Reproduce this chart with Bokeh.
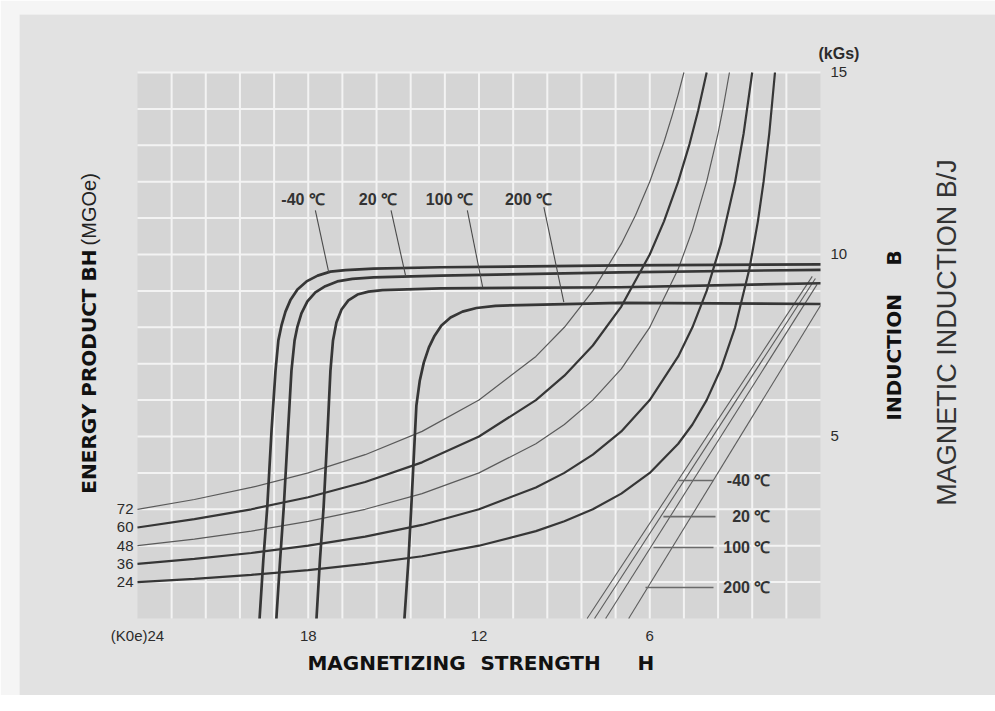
from math import pi
from bokeh.plotting import figure
from bokeh.models import Range1d, LinearAxis, FixedTicker
from bokeh.core.properties import value
from bokeh.embed import file_html
from bokeh.resources import INLINE

# ---------------- data ----------------
H_MAX, B_MAX = 24, 15
H_TICKS = [24, 18, 12, 6]
H_TICK_LABELS = ["(K0e)24", "18", "12", "6"]
B_TICKS = [5, 10, 15]
B_TICK_LABELS = ["5", "10", "15"]
BH_VALUES = [24, 36, 48, 60, 72]
TEMPS = ["-40 \u2103", "20 \u2103", "100 \u2103", "200 \u2103"]

# intrinsic demagnetization curves (H in kOe, B/J in kGs)
j_m40_h = [19.71, 19.58, 19.44, 19.29, 19.15, 19.05, 18.94, 18.80, 18.62, 18.38, 18.06, 17.67,
           17.22, 16.69, 15.71, 13.35, 7.03, 0.0]
j_m40_b = [0.00, 1.59, 3.06, 5.16, 6.81, 7.64, 8.05, 8.43, 8.76, 9.04, 9.26, 9.42,
           9.53, 9.57, 9.61, 9.65, 9.70, 9.73]
j_20_h = [19.12, 18.99, 18.86, 18.71, 18.59, 18.48, 18.38, 18.24, 18.03, 17.75, 17.40, 16.98,
          16.45, 15.71, 13.35, 7.03, 0.0]
j_20_b = [0.00, 1.59, 3.06, 5.16, 6.81, 7.64, 8.02, 8.38, 8.71, 8.96, 9.13, 9.26,
          9.33, 9.37, 9.42, 9.51, 9.58]
j_100_h = [17.71, 17.59, 17.46, 17.32, 17.22, 17.13, 17.01, 16.83, 16.59, 16.27, 15.88, 15.39,
           13.35, 7.03, 0.0]
j_100_b = [0.00, 1.59, 3.06, 5.16, 6.81, 7.64, 8.13, 8.49, 8.74, 8.90, 8.98, 9.02,
           9.07, 9.10, 9.21]
j_200_h = [14.62, 14.48, 14.38, 14.28, 14.20, 14.08, 13.94, 13.76, 13.56, 13.32, 13.00, 12.58,
           12.09, 11.42, 10.54, 7.03, 0.0]
j_200_b = [0.00, 1.59, 3.06, 4.62, 5.85, 6.54, 7.03, 7.45, 7.77, 8.05, 8.27, 8.43,
           8.53, 8.59, 8.61, 8.67, 8.64]

# normal B-H lines (lower right)
n_m40_h = [8.20, 0.29]
n_m40_b = [0.00, 9.40]
n_20_h = [7.94, 0.18]
n_20_b = [0.00, 9.34]
n_100_h = [7.55, 0.12]
n_100_b = [0.00, 9.18]
n_200_h = [6.74, 0.00]
n_200_b = [0.00, 8.60]

# energy product curves
bh72_h = [24, 22, 20, 18, 16, 14, 12, 10, 9, 8, 7, 6.5, 6, 5.5, 5.2, 5.0, 4.8]
bh72_b = [3.00, 3.27, 3.60, 4.00, 4.50, 5.14, 6.00, 7.20, 8.00, 9.00, 10.29, 11.08, 12.00, 13.09, 13.85, 14.40, 15.00]
bh60_h = [24, 22, 20, 18, 16, 14, 12, 10, 9, 8, 7, 6, 5.5, 5, 4.6, 4.3, 4.0]
bh60_b = [2.50, 2.73, 3.00, 3.33, 3.75, 4.29, 5.00, 6.00, 6.67, 7.50, 8.57, 10.00, 10.91, 12.00, 13.04, 13.95, 15.00]
bh48_h = [24, 22, 20, 18, 16, 14, 12, 10, 9, 8, 7, 6, 5, 4.5, 4, 3.6, 3.4, 3.2]
bh48_b = [2.00, 2.18, 2.40, 2.67, 3.00, 3.43, 4.00, 4.80, 5.33, 6.00, 6.86, 8.00, 9.60, 10.67, 12.00, 13.33, 14.12, 15.00]
bh36_h = [24, 22, 20, 18, 16, 14, 12, 10, 9, 8, 7, 6, 5, 4.5, 4, 3.5, 3, 2.7, 2.4]
bh36_b = [1.50, 1.64, 1.80, 2.00, 2.25, 2.57, 3.00, 3.60, 4.00, 4.50, 5.14, 6.00, 7.20, 8.00, 9.00, 10.29, 12.00, 13.33, 15.00]
bh24_h = [24, 22, 20, 18, 16, 14, 12, 10, 9, 8, 7, 6, 5, 4.5, 4, 3.5, 3, 2.5, 2.2, 2.0, 1.8, 1.6]
bh24_b = [1.00, 1.09, 1.20, 1.33, 1.50, 1.71, 2.00, 2.40, 2.67, 3.00, 3.43, 4.00, 4.80, 5.33, 6.00, 6.86, 8.00, 9.60, 10.91, 12.00, 13.33, 15.00]

# grid steps of the chart box
GRID_H = [round(1.2 * i, 1) for i in range(1, 20)]
GRID_B = list(range(1, B_MAX + 1))

# ---------------- figure ----------------
DARK = "#363636"
TXT = "#2b2b2b"

# frame = grey panel; chart box (24..0 kOe, 0..15 kGs) sits inside it
p = figure(width=995, height=695,
           x_range=Range1d(28.146, -6.149), y_range=Range1d(-2.1154, 16.593),
           output_backend="svg", toolbar_location=None,
           x_axis_location=None, y_axis_location=None,
           min_border_left=19, min_border_top=14, min_border_right=0, min_border_bottom=0,
           background_fill_color="#e2e2e2", border_fill_color="#f5f5f5",
           outline_line_color=None)
p.grid.visible = False

# chart area and its grid
p.quad(left=[H_MAX], right=[0], bottom=[0], top=[B_MAX], fill_color="#d5d5d5",
       line_color=None, level="image")
p.segment(x0=GRID_H, y0=[0] * len(GRID_H), x1=GRID_H, y1=[B_MAX] * len(GRID_H),
          line_color="#f3f3f3", line_width=2, level="underlay")
p.segment(x0=[H_MAX] * len(GRID_B), y0=GRID_B, x1=[0] * len(GRID_B), y1=GRID_B,
          line_color="#f3f3f3", line_width=2, level="underlay")


def style_axis(ax, standoff, size="15px"):
    ax.axis_line_color = None
    ax.major_tick_line_color = None
    ax.minor_tick_line_color = None
    ax.major_tick_in = 0
    ax.major_tick_out = 0
    ax.major_label_standoff = standoff
    ax.major_label_text_font = "Liberation Sans"
    ax.major_label_text_font_size = size
    ax.major_label_text_color = TXT


xaxis = LinearAxis(ticker=FixedTicker(ticks=H_TICKS), fixed_location=0,
                   major_label_overrides=dict(zip(H_TICKS, H_TICK_LABELS)))
style_axis(xaxis, 9)
p.add_layout(xaxis, "below")

raxis = LinearAxis(ticker=FixedTicker(ticks=B_TICKS), fixed_location=0,
                   major_label_overrides=dict(zip(B_TICKS, B_TICK_LABELS)))
style_axis(raxis, 10)
p.add_layout(raxis, "right")

bh_curves = [(bh24_h, bh24_b), (bh36_h, bh36_b), (bh48_h, bh48_b), (bh60_h, bh60_b), (bh72_h, bh72_b)]
start_b = [c[1][0] for c in bh_curves]
laxis = LinearAxis(ticker=FixedTicker(ticks=start_b), fixed_location=H_MAX,
                   major_label_overrides={b: str(v) for b, v in zip(start_b, BH_VALUES)})
style_axis(laxis, 4)
p.add_layout(laxis, "left")

# energy product hyperbolas
thin = {48, 72}
for (hh, bb), v in zip(bh_curves, BH_VALUES):
    if v in thin:
        p.line(hh, bb, line_color="#5a5a5a", line_width=1.2)
    else:
        p.line(hh, bb, line_color=DARK, line_width=2.2)

# normal lines
for hh, bb in [(n_m40_h, n_m40_b), (n_20_h, n_20_b), (n_100_h, n_100_b), (n_200_h, n_200_b)]:
    p.line(hh, bb, line_color="#5c5c5c", line_width=1.1)

# intrinsic curves
for hh, bb in [(j_m40_h, j_m40_b), (j_20_h, j_20_b), (j_100_h, j_100_b), (j_200_h, j_200_b)]:
    p.line(hh, bb, line_color=DARK, line_width=2.7, line_join="round")

# ---------------- labels (positions) ----------------
up_x = [18.18, 15.55, 13.04, 10.26]
up_y = [11.51, 11.51, 11.51, 11.51]
lead_up = [([17.75, 17.28], [11.21, 9.51]),
           ([15.09, 14.58], [11.21, 9.42]),
           ([12.41, 11.87], [11.21, 9.10]),
           ([9.72, 9.02], [11.30, 8.69])]
for xs, ys in lead_up:
    p.line(xs, ys, line_color="#4a4a4a", line_width=1.1)
p.text(x=up_x, y=up_y, text=TEMPS, text_font=value("Liberation Sans"), text_font_style="bold",
       text_font_size="16px", text_color="#333333", text_align="center", text_baseline="middle")

lo_x = [1.76, 1.76, 1.76, 1.76]
lo_y = [3.79, 2.80, 1.95, 0.85]
lead_lo = [([4.99, 3.76], [3.79, 3.79]),
           ([5.52, 3.69], [2.80, 2.80]),
           ([5.87, 3.76], [1.95, 1.95]),
           ([6.15, 3.76], [0.85, 0.85])]
for xs, ys in lead_lo:
    p.line(xs, ys, line_color="#6a6a6a", line_width=1.6)
p.text(x=lo_x, y=lo_y, text=TEMPS, text_font=value("Liberation Sans"), text_font_style="bold",
       text_font_size="16px", text_color="#333333", text_align="right", text_baseline="middle")

BOLD = value("DejaVu Sans")
REG = value("Liberation Sans")

# bottom title
p.text(x=[18.03, 11.95, 6.43], y=[-1.236] * 3, text=["MAGNETIZING", "STRENGTH", "H"],
       text_font=BOLD, text_font_style="bold", text_font_size="20px", text_color="#111111",
       text_align="left", text_baseline="middle")

# left title (reads bottom to top)
p.text(x=[25.72], y=[3.43], text=["ENERGY PRODUCT BH"], angle=pi / 2, text_font=BOLD,
       text_font_style="bold", text_font_size="20px", text_color="#111111",
       text_align="left", text_baseline="middle")
p.text(x=[25.72], y=[10.25], text=["(MGOe)"], angle=pi / 2, text_font=REG,
       text_font_size="20px", text_color="#222222", text_align="left", text_baseline="middle")

# right titles
p.text(x=[-2.565, -2.565], y=[5.44, 9.70], text=["INDUCTION", "B"], angle=pi / 2, text_font=BOLD,
       text_font_style="bold", text_font_size="20px", text_color="#111111",
       text_align="left", text_baseline="middle")
p.text(x=[-4.46], y=[3.10], text=["MAGNETIC INDUCTION B/J"], angle=pi / 2, text_font=REG,
       text_font_size="27px", text_color="#333333", text_align="left", text_baseline="middle")
p.text(x=[0.07], y=[15.52], text=["(kGs)"], text_font=REG, text_font_style="bold",
       text_font_size="16px", text_color=TXT, text_align="left", text_baseline="middle")

open("out.html", "w").write(file_html(p, INLINE))
